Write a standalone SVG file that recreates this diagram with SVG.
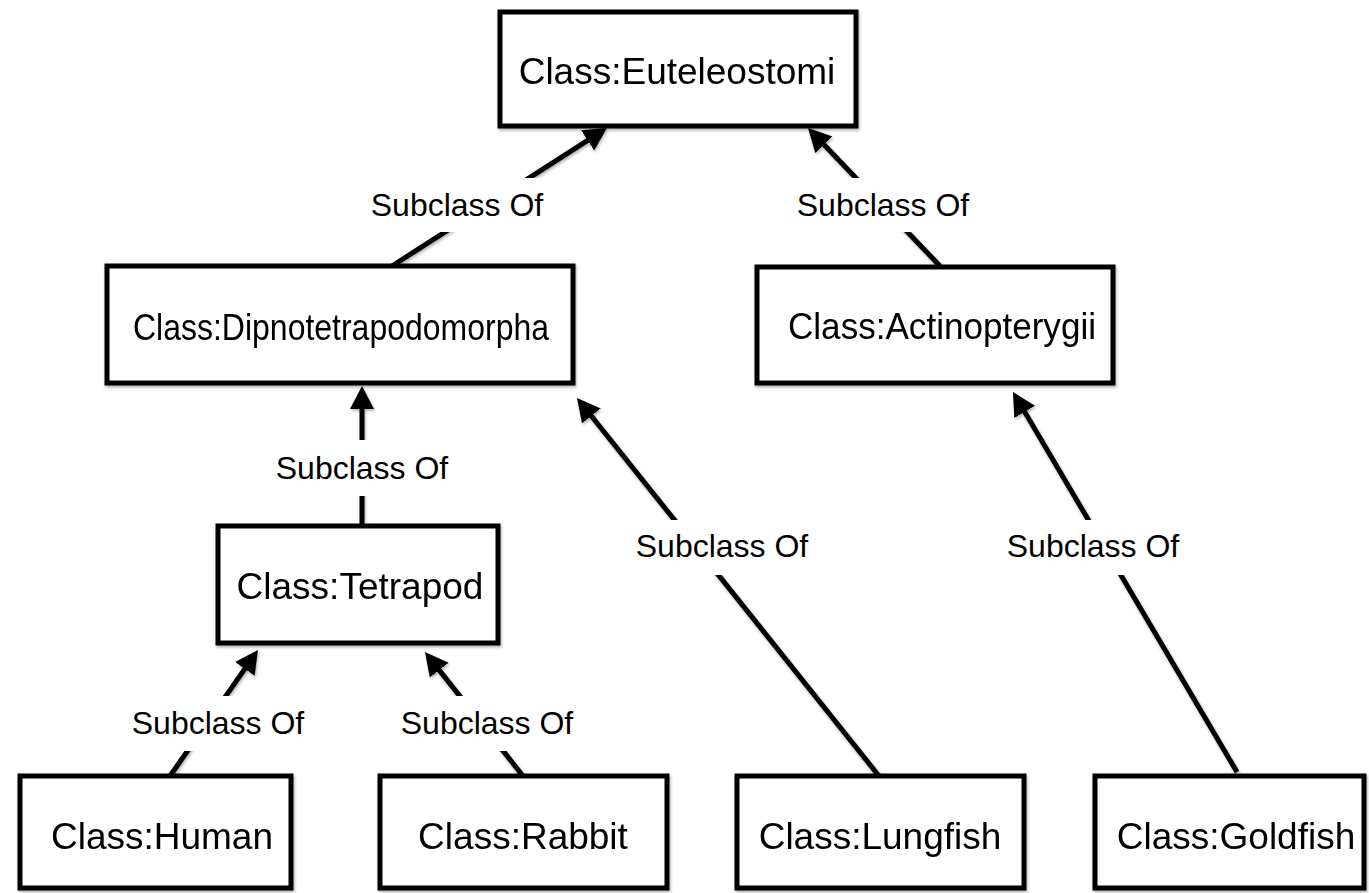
<svg xmlns="http://www.w3.org/2000/svg" width="1369" height="893" viewBox="0 0 1369 893">
  <style>
    .box { fill: #ffffff; stroke: #000000; stroke-width: 5; }
    .name { font-family: "Liberation Sans", Arial, sans-serif; font-size: 37px; fill: #000000; text-anchor: middle; }
    .edge { stroke: #000000; stroke-width: 5; fill: none; marker-end: url(#head); }
    .tag-bg { fill: #ffffff; stroke: none; }
    .tag { font-family: "Liberation Sans", Arial, sans-serif; font-size: 32px; fill: #000000; text-anchor: middle; }
  </style>
  <defs>
    <filter id="soft" x="-5%" y="-5%" width="115%" height="125%">
      <feDropShadow dx="1" dy="2" stdDeviation="1.6" flood-color="#000000" flood-opacity="0.3"/>
    </filter>
    <marker id="head" markerUnits="userSpaceOnUse" markerWidth="24" markerHeight="24" refX="7" refY="12" orient="auto">
      <path d="M0,0 L23,12 L0,24 z" fill="#000000"/>
    </marker>
  </defs>
  <rect width="1369" height="893" fill="#ffffff"/>

  <!-- subclass links, drawn under the boxes -->
  <g id="connectors" filter="url(#soft)">
    <line class="edge" x1="392" y1="266" x2="593.5" y2="136.6"/>
    <line class="edge" x1="940" y1="266" x2="819.1" y2="139.6"/>
    <line class="edge" x1="362" y1="526" x2="362" y2="402"/>
    <line class="edge" x1="879" y1="776" x2="587" y2="410.5"/>
    <line class="edge" x1="1237" y1="772" x2="1021.1" y2="405.8"/>
    <line class="edge" x1="170" y1="776" x2="248.8" y2="663.1"/>
    <line class="edge" x1="523" y1="776" x2="434.9" y2="664.6"/>
  </g>

  <!-- link labels on white plates that break the lines -->
  <g id="labels">
    <rect class="tag-bg" x="367" y="178" width="180" height="54"/>
    <text class="tag" x="457" y="216">Subclass Of</text>
    <rect class="tag-bg" x="793" y="178" width="180" height="54"/>
    <text class="tag" x="883" y="216">Subclass Of</text>
    <rect class="tag-bg" x="272" y="440" width="180" height="56"/>
    <text class="tag" x="362" y="479">Subclass Of</text>
    <rect class="tag-bg" x="632" y="520" width="180" height="55"/>
    <text class="tag" x="722" y="557">Subclass Of</text>
    <rect class="tag-bg" x="1003" y="520" width="180" height="55"/>
    <text class="tag" x="1093" y="557">Subclass Of</text>
    <rect class="tag-bg" x="128" y="696" width="180" height="55"/>
    <text class="tag" x="218" y="734">Subclass Of</text>
    <rect class="tag-bg" x="397" y="696" width="180" height="55"/>
    <text class="tag" x="487" y="734">Subclass Of</text>
  </g>

  <g id="euteleostomi" filter="url(#soft)">
    <rect class="box" x="500" y="12" width="356" height="114"/>
    <text class="name" x="677" y="84">Class:Euteleostomi</text>
  </g>
  <g id="dipnotetrapodomorpha" filter="url(#soft)">
    <rect class="box" x="107" y="266" width="466" height="117"/>
    <text class="name" x="341" y="340" textLength="416" lengthAdjust="spacingAndGlyphs">Class:Dipnotetrapodomorpha</text>
  </g>
  <g id="actinopterygii" filter="url(#soft)">
    <rect class="box" x="757" y="267" width="356" height="116"/>
    <text class="name" x="942" y="339" textLength="308" lengthAdjust="spacingAndGlyphs">Class:Actinopterygii</text>
  </g>
  <g id="tetrapod" filter="url(#soft)">
    <rect class="box" x="218" y="526" width="280" height="117"/>
    <text class="name" x="360" y="599">Class:Tetrapod</text>
  </g>
  <g id="human" filter="url(#soft)">
    <rect class="box" x="20" y="776" width="271" height="112"/>
    <text class="name" x="162" y="849">Class:Human</text>
  </g>
  <g id="rabbit" filter="url(#soft)">
    <rect class="box" x="380" y="776" width="287" height="112"/>
    <text class="name" x="523" y="849">Class:Rabbit</text>
  </g>
  <g id="lungfish" filter="url(#soft)">
    <rect class="box" x="737" y="776" width="287" height="112"/>
    <text class="name" x="880" y="849">Class:Lungfish</text>
  </g>
  <g id="goldfish" filter="url(#soft)">
    <rect class="box" x="1095" y="776" width="269" height="112"/>
    <text class="name" x="1236" y="849">Class:Goldfish</text>
  </g>
</svg>
